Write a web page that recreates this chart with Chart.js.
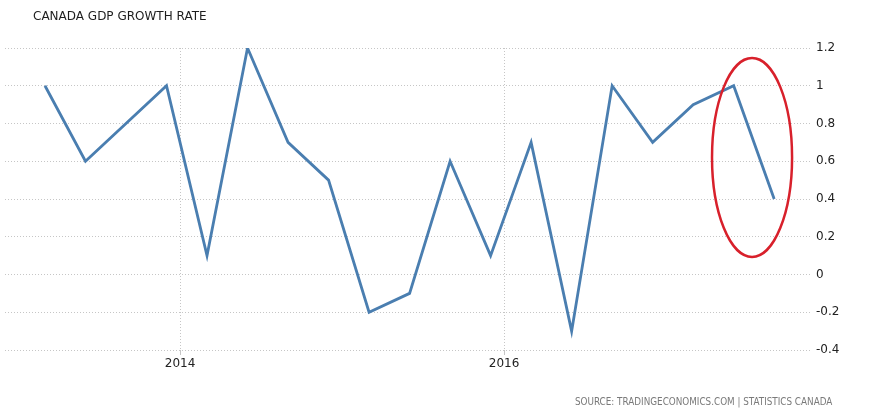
<!DOCTYPE html>
<html>
<head>
<meta charset="utf-8">
<script src="https://cdn.jsdelivr.net/npm/chart.js@4"></script>
<style>
  html, body { margin: 0; padding: 0; background: #fff; }
  #wrap { position: relative; width: 872px; height: 415px; }
  #title {
    position: absolute; left: 33px; top: 9px;
    font: 12px "DejaVu Sans", sans-serif; color: #1e1e1e;
  }
  #source {
    position: absolute; left: 575px; top: 396px;
    font: 9.8px "DejaVu Sans Condensed", "DejaVu Sans", sans-serif; color: #7a7a7a;
  }
</style>
</head>
<body>
<div id="wrap">
  <canvas id="myChart" width="872" height="415"></canvas>
  <div id="title">CANADA GDP GROWTH RATE</div>
  <div id="source">SOURCE: TRADINGECONOMICS.COM | STATISTICS CANADA</div>
</div>
<script>
// quarterly data, 2013 Q1 .. 2017 Q3
const quarters = [
    '2013Q1', '2013Q2', '2013Q3', '2013Q4',
    '2014Q1', '2014Q2', '2014Q3', '2014Q4',
    '2015Q1', '2015Q2', '2015Q3', '2015Q4',
    '2016Q1', '2016Q2', '2016Q3', '2016Q4',
    '2017Q1', '2017Q2', '2017Q3'
];
const growth = [1.0, 0.6, 0.8, 1.0, 0.1, 1.2, 0.7, 0.5, -0.2, -0.1, 0.6, 0.1, 0.7, -0.3, 1.0, 0.7, 0.9, 1.0, 0.4];
const yearTicks = [2014, 2016];
const yTicks = [-0.4, -0.2, 0, 0.2, 0.4, 0.6, 0.8, 1, 1.2];

// the red ring around the last reading (in data units)
const ring = { x: 2017.53, y: 0.62, rx: 0.247, ry: 0.527 };

// quarter label -> position on a year axis (plotted at the second month of the quarter)
function quarterToYear(q) {
    const year = parseInt(q.slice(0, 4));
    const n = parseInt(q.slice(5));
    return year + 1 / 6 + (n - 1) / 4;
}

const points = quarters.map((q, i) => ({ x: quarterToYear(q), y: growth[i] }));

const ringPlugin = {
    id: 'ring',
    afterDatasetsDraw(chart) {
        const xs = chart.scales.x, ys = chart.scales.y;
        const cx = xs.getPixelForValue(ring.x);
        const cy = ys.getPixelForValue(ring.y);
        const rx = Math.abs(xs.getPixelForValue(ring.x + ring.rx) - cx);
        const ry = Math.abs(ys.getPixelForValue(ring.y + ring.ry) - cy);
        const ctx = chart.ctx;
        ctx.save();
        ctx.strokeStyle = '#d8202b';
        ctx.lineWidth = 2.5;
        ctx.beginPath();
        ctx.ellipse(cx, cy, rx, ry, 0, 0, Math.PI * 2);
        ctx.stroke();
        ctx.restore();
    }
};

const config = {
    type: 'line',
    data: {
        datasets: [{
            label: 'GDP Growth Rate',
            data: points,
            borderColor: '#4a7eb0',
            borderWidth: 2.8,
            pointRadius: 0,
            tension: 0,
            fill: false
        }]
    },
    options: {
        responsive: false,
        animation: false,
        layout: { padding: { left: 5, top: 48, right: 0, bottom: 0 } },
        plugins: {
            legend: { display: false },
            tooltip: { enabled: false }
        },
        scales: {
            x: {
                type: 'linear',
                min: 2012.92,
                max: 2017.9,
                afterBuildTicks: (scale) => { scale.ticks = yearTicks.map(v => ({ value: v })); },
                afterFit: (scale) => { scale.height = 65; },
                grid: { color: '#c6c6c6', lineWidth: 1, drawTicks: true, tickLength: 5 },
                border: { display: false, dash: [1, 2] },
                ticks: {
                    color: '#222',
                    font: { family: 'DejaVu Sans', size: 12 },
                    padding: 2,
                    maxRotation: 0,
                    callback: (v) => String(v)
                }
            },
            y: {
                position: 'right',
                min: -0.4,
                max: 1.2,
                afterBuildTicks: (scale) => { scale.ticks = yTicks.map(v => ({ value: v })); },
                afterFit: (scale) => { scale.width = 60; },
                grid: { color: '#c6c6c6', lineWidth: 1, drawTicks: false },
                border: { display: false, dash: [1, 2] },
                ticks: {
                    color: '#222',
                    font: { family: 'DejaVu Sans', size: 12 },
                    padding: 4,
                    callback: (v) => String(Math.round(v * 10) / 10)
                }
            }
        }
    },
    plugins: [ringPlugin]
};

const myChart = new Chart(document.getElementById('myChart'), config);
</script>
</body>
</html>
